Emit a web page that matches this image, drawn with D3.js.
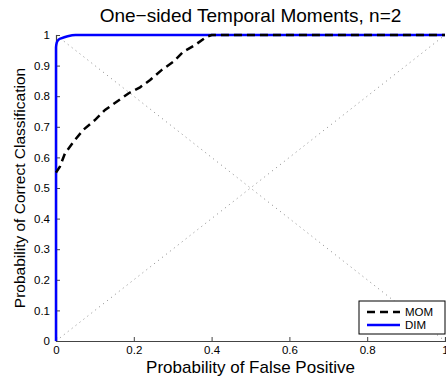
<!DOCTYPE html>
<html>
<head>
<meta charset="utf-8">
<script src="https://cdn.jsdelivr.net/npm/d3@7"></script>
<style>
  body { margin: 0; background: #fff; }
  text { font-family: "Liberation Sans", Arial, sans-serif; fill: #000; }
</style>
</head>
<body>
<div id="chart"></div>
<script>
// ROC curve data (false positive rate, probability of correct classification)
const momFpr = [0, 0.01, 0.023, 0.045, 0.07, 0.1, 0.126, 0.156, 0.186, 0.216, 0.242, 0.272, 0.302, 0.327, 0.357, 0.387, 0.4, 1];
const momPd = [0.55, 0.57, 0.613, 0.651, 0.69, 0.722, 0.755, 0.782, 0.809, 0.829, 0.853, 0.886, 0.913, 0.945, 0.967, 0.994, 1, 1];
const dimFpr = [0, 0, 0.002, 0.006, 0.015, 0.03, 0.05, 1];
const dimPd = [0, 0.96, 0.975, 0.984, 0.99, 0.996, 1, 1];
const xTicks = [0, 0.2, 0.4, 0.6, 0.8, 1];
const yTicks = [0, 0.1, 0.2, 0.3, 0.4, 0.5, 0.6, 0.7, 0.8, 0.9, 1];
const seriesNames = ["MOM", "DIM"];

const chartWidth = 446;
const chartHeight = 381;
const margin = { top: 35, right: 1, bottom: 40, left: 56 };
const width = chartWidth - margin.left - margin.right;
const height = chartHeight - margin.top - margin.bottom;

const svg = d3
  .select("#chart")
  .append("svg")
  .attr("width", chartWidth)
  .attr("height", chartHeight);

const g = svg
  .append("g")
  .attr("transform", `translate(${margin.left}, ${margin.top})`);

const x = d3.scaleLinear().domain([0, 1]).range([0, width]);
const y = d3.scaleLinear().domain([0, 1]).range([height, 0]);

// chance / reference diagonals
const diag = d3.line().x((d) => x(d[0])).y((d) => y(d[1]));
[[[0, 0], [1, 1]], [[0, 1], [1, 0]]].forEach((pts) => {
  g.append("path")
    .attr("d", diag(pts))
    .attr("fill", "none")
    .attr("stroke", "#888")
    .attr("stroke-width", 1)
    .attr("stroke-dasharray", "1,4");
});

// axes (inward ticks, matlab style)
const xAxis = g
  .append("g")
  .attr("transform", `translate(0, ${height})`)
  .call(d3.axisBottom(x).tickValues(xTicks).tickSize(-4).tickPadding(5).tickFormat(d3.format("")));
const yAxis = g
  .append("g")
  .call(d3.axisLeft(y).tickValues(yTicks).tickSize(-4).tickPadding(6).tickFormat(d3.format("")));

[xAxis, yAxis].forEach((ax) => {
  ax.select(".domain").attr("stroke", "#444").attr("stroke-width", 1.2);
  ax.selectAll(".tick line").attr("stroke", "#444");
  ax.selectAll(".tick text")
    .style("font-family", "'Liberation Sans', Arial, sans-serif")
    .style("font-size", "11.5px")
    .attr("fill", "#000");
});

// curves
const line = d3
  .line()
  .x((d) => x(d[0]))
  .y((d) => y(d[1]));

g.append("path")
  .datum(dimFpr.map((v, i) => [v, dimPd[i]]))
  .attr("d", line.curve(d3.curveMonotoneX))
  .attr("fill", "none")
  .attr("stroke", "#0000ff")
  .attr("stroke-width", 2.5);

g.append("path")
  .datum(momFpr.map((v, i) => [v, momPd[i]]))
  .attr("d", d3.line().x((d) => x(d[0])).y((d) => y(d[1])))
  .attr("fill", "none")
  .attr("stroke", "#000")
  .attr("stroke-width", 2.5)
  .attr("stroke-dasharray", "8,5");

// title and labels
svg
  .append("text")
  .attr("x", margin.left + width / 2)
  .attr("y", 22)
  .attr("text-anchor", "middle")
  .style("font-size", "19px")
  .text("One\u2212sided Temporal Moments, n=2");

svg
  .append("text")
  .attr("x", margin.left + width / 2)
  .attr("y", 373)
  .attr("text-anchor", "middle")
  .style("font-size", "17px")
  .text("Probability of False Positive");

svg
  .append("text")
  .attr("transform", `translate(25, ${margin.top + height / 2}) rotate(-90)`)
  .attr("text-anchor", "middle")
  .style("font-size", "15.5px")
  .text("Probability of Correct Classification");

// legend
const legend = svg.append("g").attr("transform", "translate(359, 301)");
legend
  .append("rect")
  .attr("width", 86)
  .attr("height", 33)
  .attr("fill", "#fff")
  .attr("stroke", "#000")
  .attr("stroke-width", 1);

const legendStyles = [
  { color: "#000", dash: "8,5" },
  { color: "#0000ff", dash: null },
];
seriesNames.forEach((name, i) => {
  const ly = 11 + i * 13;
  legend
    .append("line")
    .attr("x1", 8)
    .attr("x2", 41)
    .attr("y1", ly)
    .attr("y2", ly)
    .attr("stroke", legendStyles[i].color)
    .attr("stroke-width", 2.5)
    .attr("stroke-dasharray", legendStyles[i].dash);
  legend
    .append("text")
    .attr("x", 46)
    .attr("y", ly + 4)
    .style("font-size", "11.5px")
    .text(name);
});
</script>
</body>
</html>
